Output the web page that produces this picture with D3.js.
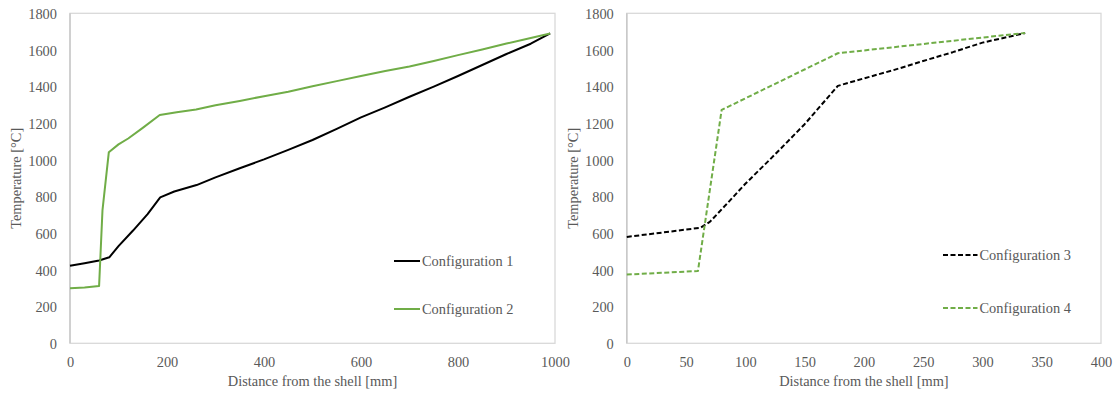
<!DOCTYPE html>
<html>
<head>
<meta charset="utf-8">
<style>
    body { margin: 0; background: #fff; }
    svg text { font-family: 'Liberation Serif', 'Times New Roman', serif; font-size: 14.4px; fill: #595959; }
    .domain { display: none; }
</style>
</head>
<body>
<svg width="1118" height="396"></svg>

<script src="https://d3js.org/d3.v7.min.js"></script>
<script>
    // left chart: configurations 1 and 2 (distance mm, temperature °C)
    let config1 = [
        [0, 423], [30, 437], [60, 452], [81, 469], [100, 530], [130, 615], [160, 705],
        [186, 796], [215, 828], [261, 863], [300, 905], [350, 955], [400, 1003],
        [450, 1055], [500, 1109], [550, 1170], [600, 1232], [650, 1287], [700, 1345],
        [750, 1400], [800, 1458], [850, 1518], [900, 1578], [950, 1634], [990, 1690]
    ]
    let config2 = [
        [0, 300], [30, 305], [60, 313], [67, 727], [80, 1042], [100, 1085], [120, 1117],
        [150, 1175], [185, 1245], [220, 1260], [260, 1275], [300, 1298], [350, 1322],
        [400, 1348], [450, 1372], [500, 1402], [550, 1430], [600, 1458], [650, 1485],
        [700, 1510], [750, 1540], [800, 1572], [850, 1602], [900, 1635], [950, 1665],
        [990, 1690]
    ]
    // right chart: configurations 3 and 4
    let config3 = [
        [0, 580], [62, 630], [70, 662], [85, 765], [100, 870], [125, 1030], [150, 1195],
        [178, 1404], [200, 1445], [225, 1490], [250, 1540], [275, 1588], [300, 1640], [336, 1692]
    ]
    let config4 = [
        [0, 375], [60, 394], [80, 1273], [178, 1582], [336, 1693]
    ]

    let yTicks = [0, 200, 400, 600, 800, 1000, 1200, 1400, 1600, 1800]
    let xTicksLeft = [0, 200, 400, 600, 800, 1000]
    let xTicksRight = [0, 50, 100, 150, 200, 250, 300, 350, 400]

    let yLabel = "Temperature [°C]"
    let xLabel = "Distance from the shell [mm]"

    let svg = d3.select("svg")
    let plotTop = 13.3, plotBottom = 343.3

    function drawPanel(opts) {
        let g = svg.append("g")

        let x = d3.scaleLinear().domain(opts.xDomain).range([opts.left, opts.right])
        let y = d3.scaleLinear().domain([0, 1800]).range([plotBottom, plotTop])

        // plot area border
        g.append("rect")
            .attr("x", opts.left)
            .attr("y", plotTop)
            .attr("width", opts.right - opts.left)
            .attr("height", plotBottom - plotTop)
            .style("fill", "none")
            .style("stroke", "#d9d9d9")
            .style("stroke-width", "1.3px")

        g.append("line")
            .attr("x1", opts.left).attr("x2", opts.left)
            .attr("y1", plotTop).attr("y2", plotBottom)
            .style("stroke", "#c8c8c8")
            .style("stroke-width", "1.5px")

        g.append("g")
            .attr("transform", `translate(${opts.left},0)`)
            .call(d3.axisLeft(y).tickValues(yTicks).tickSize(0).tickPadding(13).tickFormat(d3.format("d")))
            .selectAll("text").attr("dy", "0.36em")

        g.append("g")
            .attr("transform", `translate(0,${plotBottom})`)
            .call(d3.axisBottom(x).tickValues(opts.xTicks).tickSize(0).tickPadding(13).tickFormat(d3.format("d")))

        let line = d3.line()
            .x(d => x(d[0]))
            .y(d => y(d[1]))

        opts.series.forEach(s => {
            g.append("path")
                .attr("d", line(s.data))
                .style("fill", "none")
                .style("stroke", s.color)
                .style("stroke-width", "2px")
                .style("stroke-linejoin", "round")
                .style("stroke-dasharray", s.dash || null)
        })

        // legend
        let lg = g.append("g").attr("class", "legend")
        opts.series.forEach((s, i) => {
            let ly = opts.legendY[i]
            lg.append("line")
                .attr("x1", opts.legendX[0]).attr("x2", opts.legendX[1])
                .attr("y1", ly).attr("y2", ly)
                .style("stroke", s.color)
                .style("stroke-width", "2px")
                .style("stroke-dasharray", s.dash || null)
            lg.append("text")
                .attr("x", opts.legendX[1] + 2)
                .attr("y", ly + 4.6)
                .text(s.name)
        })

        // axis titles
        g.append("text")
            .attr("transform", `translate(${opts.yTitleX},${(plotTop + plotBottom) / 2}) rotate(-90)`)
            .attr("dy", "0.35em")
            .style("text-anchor", "middle")
            .text(yLabel)

        g.append("text")
            .attr("x", (opts.left + opts.right) / 2)
            .attr("y", 386)
            .style("text-anchor", "middle")
            .text(xLabel)
    }

    drawPanel({
        left: 70, right: 555,
        xDomain: [0, 1000], xTicks: xTicksLeft,
        yTitleX: 16,
        legendX: [394, 420], legendY: [261, 309],
        series: [
            { name: "Configuration 1", data: config1, color: "#000000" },
            { name: "Configuration 2", data: config2, color: "#70ad47" }
        ]
    })

    drawPanel({
        left: 626.8, right: 1101,
        xDomain: [0, 400], xTicks: xTicksRight,
        yTitleX: 573,
        legendX: [943, 977.5], legendY: [255, 308],
        series: [
            { name: "Configuration 3", data: config3, color: "#000000", dash: "5,2.5" },
            { name: "Configuration 4", data: config4, color: "#70ad47", dash: "5,2.5" }
        ]
    })
</script>
</body>
</html>
